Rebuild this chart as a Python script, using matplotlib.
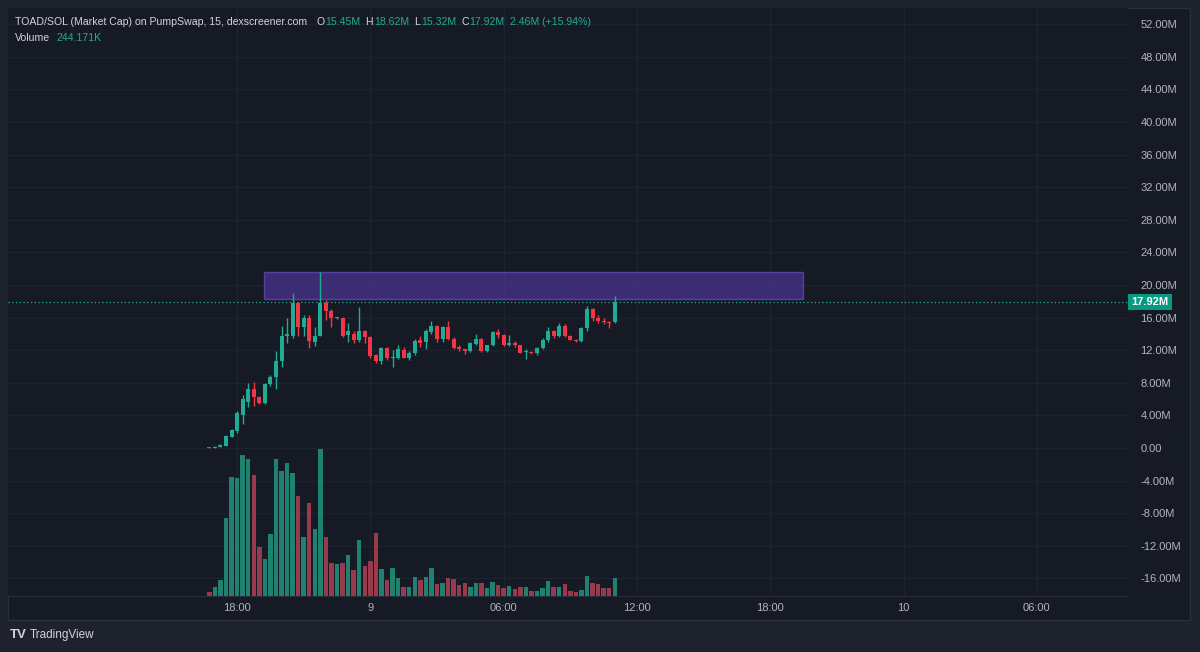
import numpy as np
import matplotlib.pyplot as plt
from matplotlib.patches import Rectangle
import matplotlib.transforms as mtransforms

plt.rcParams['font.family'] = ['Liberation Sans', 'DejaVu Sans']

# 15 minute candles, market cap in millions, starting day 8 16:45
start_hour = 16.75
step_hour = 0.25
opens = [0.10, 0.05, 0.15, 0.3, 1.4, 2.1, 4.1, 5.7, 7.3, 6.2,
         5.5, 7.8, 8.7, 10.7, 13.8, 13.8, 17.8, 14.8, 15.9, 13.0,
         13.8, 17.8, 16.8, 15.95, 16.0, 13.9, 14.0, 13.2, 14.4, 13.6,
         11.4, 10.7, 12.3, 11.0, 11.1, 12.0, 11.0, 11.6, 13.2, 13.0,
         14.2, 15.0, 13.4, 14.9, 13.4, 12.4, 12.1, 11.9, 12.8, 13.4,
         11.9, 12.6, 14.2, 13.9, 12.6, 12.9, 12.6, 11.8, 11.8, 11.6,
         12.3, 13.3, 14.3, 13.7, 15.0, 13.8, 13.3, 13.1, 14.7, 17.1,
         16.0, 15.6, 15.5, 15.45]
highs = [0.12, 0.2, 0.45, 1.6, 2.3, 4.5, 6.5, 8.0, 8.1, 6.4,
         8.0, 9.0, 11.9, 15.0, 15.9, 19.0, 17.9, 16.3, 16.3, 14.9,
         21.6, 18.2, 17.1, 16.1, 16.1, 15.3, 14.4, 17.3, 14.5, 13.7,
         11.5, 12.4, 12.4, 12.0, 12.6, 12.4, 11.9, 13.4, 13.7, 14.6,
         15.6, 15.1, 15.0, 15.6, 13.6, 12.7, 12.2, 13.0, 14.0, 13.5,
         12.7, 14.4, 14.6, 14.0, 13.9, 13.1, 12.7, 12.2, 11.9, 12.4,
         13.5, 14.9, 14.5, 15.3, 15.2, 13.9, 13.4, 14.8, 17.4, 17.2,
         16.3, 15.9, 15.6, 18.62]
lows = [0.0, 0.05, 0.1, 0.2, 1.3, 1.9, 3.0, 5.0, 5.2, 5.4,
        5.4, 7.6, 7.3, 9.9, 12.9, 13.5, 13.7, 13.7, 12.3, 12.5,
        13.8, 15.7, 14.8, 15.8, 13.6, 13.0, 12.9, 13.0, 12.9, 11.0,
        10.4, 10.3, 10.8, 10.0, 10.9, 11.0, 10.8, 11.4, 12.4, 12.1,
        14.0, 13.0, 13.0, 13.3, 12.2, 11.9, 11.5, 11.8, 12.6, 11.8,
        11.8, 12.5, 13.5, 12.5, 12.5, 12.4, 11.6, 10.9, 11.5, 11.4,
        12.2, 13.0, 13.5, 13.6, 13.6, 13.2, 13.0, 13.0, 14.3, 15.6,
        15.3, 15.2, 14.7, 15.32]
closes = [0.05, 0.15, 0.4, 1.5, 2.2, 4.3, 6.0, 7.3, 6.2, 5.5,
          7.9, 8.7, 10.7, 13.8, 14.0, 17.8, 14.8, 15.9, 13.1, 13.8,
          17.8, 16.8, 15.9, 16.0, 13.8, 14.4, 13.2, 14.4, 13.6, 11.3,
          10.7, 12.3, 11.0, 11.1, 12.1, 11.1, 11.7, 13.1, 12.9, 14.4,
          15.0, 13.4, 14.9, 13.4, 12.3, 12.1, 11.9, 12.9, 13.4, 11.9,
          12.6, 14.2, 13.9, 12.6, 12.9, 12.6, 11.7, 11.85, 11.6, 12.3,
          13.3, 14.3, 13.7, 15.0, 13.8, 13.3, 13.1, 14.7, 17.1, 16.0,
          15.6, 15.5, 15.3, 17.92]
# volume in thousands
volumes = [54, 122, 217, 1058, 1614, 1600, 1912, 1858, 1641, 664,
           502, 841, 1858, 1695, 1803, 1668, 1356, 800, 1261, 909,
           1993, 800, 447, 434, 447, 556, 353, 759, 407, 475,
           854, 366, 217, 380, 244, 122, 122, 258, 217, 258,
           380, 163, 176, 244, 231, 149, 176, 122, 176, 176,
           108, 190, 149, 108, 136, 95, 122, 122, 68, 68,
           108, 203, 122, 122, 163, 68, 54, 81, 271, 176,
           163, 108, 108, 244.171]

# resistance zone (hours from day 8 00:00, price in M)
zone_t = [19.22, 43.47]
zone_p = [18.3, 21.65]

tick_hours = [18, 24, 30, 36, 42, 48, 54]
tick_labels = ['18:00', '9', '06:00', '12:00', '18:00', '10', '06:00']
price_ticks = np.arange(-16, 53, 4)

UP = '#22ab94'
DOWN = '#f23645'
VOL_UP = '#1f8270'
VOL_DOWN = '#983a4b'
BG = '#161a25'
OUTER = '#1e222d'
GRID = '#1f232f'
TXT = '#b2b5be'
HEAD = '#d1d4dc'

t = start_hour + step_hour * np.arange(len(opens))
o = np.array(opens)
c = np.array(closes)
up = c >= o

fig = plt.figure(figsize=(12, 6.52), dpi=100, facecolor=OUTER)
# chart panel background + x axis strip
fig.patches.append(Rectangle((8 / 1200, 1 - 620 / 652), 1182 / 1200, 612 / 652,
                             transform=fig.transFigure, facecolor=BG,
                             edgecolor='#2a2e39', lw=1, zorder=-5))

pos = [8 / 1200, 1 - 596 / 652, 1120 / 1200, 588 / 652]
ax = fig.add_axes(pos)
ax.set_facecolor(BG)
ax.set_zorder(1)
ax.set_xlim(7.69, 58.1)
ax.set_ylim(-18.16, 53.99)
ax.grid(True, color=GRID, lw=1)
ax.set_axisbelow(True)

axv = ax.twinx()
axv.set_zorder(2)
axv.patch.set_visible(False)
axv.bar(t, volumes, width=0.2, color=np.where(up, VOL_UP, VOL_DOWN), zorder=2)
axv.set_ylim(0, 7973)
axv.set_yticks([])
for s in axv.spines.values():
    s.set_visible(False)

# candles on a top layer sharing the price scale
axc = fig.add_axes(pos, sharex=ax, sharey=ax)
axc.set_zorder(3)
axc.patch.set_visible(False)
axc.axis('off')

colors = np.where(up, UP, DOWN)
axc.vlines(t, lows, highs, colors=colors, lw=1, zorder=3)
body_bot = np.minimum(o, c)
body_h = np.maximum(np.abs(c - o), 0.12)
axc.bar(t, body_h, bottom=body_bot, width=0.18, color=colors, zorder=4)

axc.add_patch(Rectangle((zone_t[0], zone_p[0]), zone_t[1] - zone_t[0], zone_p[1] - zone_p[0],
                        facecolor='#5a3bb5', alpha=0.55, edgecolor='#7b5be0', lw=1, zorder=2))

last = closes[-1]
axc.axhline(last, color=UP, lw=0.9, ls=(0, (1, 2)), zorder=2)

ax.set_xticks(tick_hours)
ax.set_xticklabels(tick_labels)
ax.set_yticks(price_ticks)
ax.set_yticklabels(['0.00' if p == 0 else '%.2fM' % p for p in price_ticks])
ax.yaxis.tick_right()
ax.tick_params(axis='y', length=0, pad=9, labelsize=8, labelcolor=TXT)
ax.tick_params(axis='x', length=0, pad=5, labelsize=8, labelcolor=TXT)
for s in ax.spines.values():
    s.set_visible(False)
ax.spines['bottom'].set_visible(True)
ax.spines['bottom'].set_color('#2a2e39')

trans = mtransforms.blended_transform_factory(axc.transAxes, axc.transData)
axc.text(1.003, last, '%.2fM' % last, transform=trans, ha='left', va='center',
         fontsize=8, color='white', fontweight='bold', clip_on=False,
         bbox=dict(boxstyle='square,pad=0.3', facecolor='#089981', edgecolor='none'), zorder=6)

# header legend, pieces chained left to right
renderer = fig.canvas.get_renderer()


def chain(x, y, pieces):
    for s, col, gap in pieces:
        tx = fig.text(x / 1200, 1 - y / 652, s, color=col, fontsize=7.6, va='center', ha='left')
        bb = tx.get_window_extent(renderer)
        x = x + bb.width + gap


chain(15, 22, [('TOAD/SOL (Market Cap) on PumpSwap, 15, dexscreener.com', HEAD, 9),
               ('O', HEAD, 1), ('%.2fM' % opens[-1], UP, 5),
               ('H', HEAD, 1), ('%.2fM' % highs[-1], UP, 5),
               ('L', HEAD, 1), ('%.2fM' % lows[-1], UP, 5),
               ('C', HEAD, 1), ('%.2fM' % closes[-1], UP, 5),
               ('2.46M (+15.94%)', UP, 0)])
chain(15, 38, [('Volume', HEAD, 6), ('%.3fK' % volumes[-1], UP, 0)])

fig.text(10 / 1200, 1 - 635 / 652, 'TV', color=HEAD, fontsize=9.5, fontweight='bold',
         va='center', ha='left')
fig.text(30 / 1200, 1 - 635 / 652, 'TradingView', color=HEAD, fontsize=8.5,
         va='center', ha='left')

fig.savefig('out.png', dpi=100, facecolor=OUTER)
